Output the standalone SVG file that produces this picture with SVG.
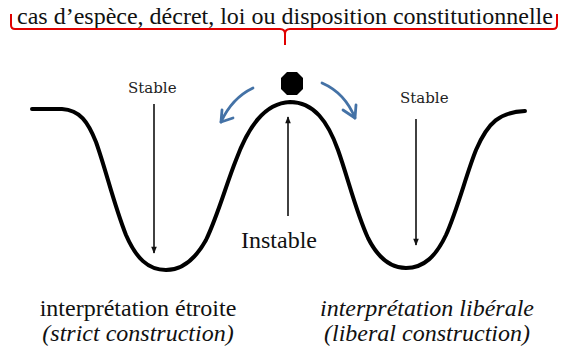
<svg xmlns="http://www.w3.org/2000/svg" width="561" height="352" viewBox="0 0 561 352">
<defs>
<style>
.tx{font-family:"Liberation Serif","Times New Roman",serif;font-size:24px;fill:#111}
.it{font-style:italic}
.stable{font-family:"DejaVu Serif","Liberation Serif",serif;font-size:15px;fill:#222}
.curve{fill:none;stroke:#000;stroke-width:4;stroke-linejoin:round;stroke-linecap:round}
.ar{fill:none;stroke:#111;stroke-width:1.6}
.blue{fill:none;stroke:#4472a6;stroke-width:2.8;stroke-linecap:round;stroke-linejoin:round}
.brace{fill:none;stroke:#e00000;stroke-width:2;stroke-linejoin:round}
</style>
<marker id="ah" viewBox="0 0 10 10" refX="9" refY="5" markerWidth="10" markerHeight="7" markerUnits="userSpaceOnUse" orient="auto">
<path d="M0,1 L10,5 L0,9 z" fill="#111"/>
</marker>
</defs>
<rect width="561" height="352" fill="#fff"/>
<g id="header">
<text class="tx" x="17" y="24">cas d’espèce, décret, loi ou disposition constitutionnelle</text>
<path class="brace" d="M11,14 L11,25 Q11,29 15,29 L280,29 Q285,29 285,34 L285,45 M285,34 Q285,29 290,29 L553,29 Q557,29 557,25 L557,14"/>
</g>
<g id="curve">
<path class="curve" d="M32,109 L62,109 C80,110 88,122 96,142 C106,170 114,205 126,235 C136,258 148,270 166,270 C184,270 196,258 206,240 C218,215 226,185 236,160 C248,128 264,103 290,102 C314,102 328,122 338,150 C348,178 356,212 368,238 C378,258 390,268 406,268 C424,268 436,256 446,235 C458,208 466,175 476,150 C488,122 500,112 525,111"/>
</g>
<g id="ball">
<polygon points="287,72 297,72 303,78 303,89 297,95 287,95 281,89 281,78" fill="#000"/>
</g>
<g id="stable-left">
<text class="stable" x="128" y="93">Stable</text>
</g>
<g id="stable-right">
<text class="stable" x="400" y="103">Stable</text>
</g>
<g id="instable">
<text class="tx" x="241" y="248" font-size="25">Instable</text>
</g>
<g id="connectors">
<line class="ar" x1="154" y1="104" x2="154" y2="253" marker-end="url(#ah)"/>
<line class="ar" x1="416" y1="119" x2="416" y2="245" marker-end="url(#ah)"/>
<line class="ar" x1="288" y1="216" x2="288" y2="117" marker-end="url(#ah)"/>
<path class="blue" d="M253,88 Q232,98 221,122"/>
<path class="blue" d="M221,122 L233,118 M221,122 L222,110"/>
<path class="blue" d="M322,83 Q345,93 355,118"/>
<path class="blue" d="M355,118 L343,110 M355,118 L356,105"/>
</g>
<g id="captions">
<text class="tx" x="138" y="316" text-anchor="middle">interprétation étroite</text>
<text class="tx it" x="138" y="341" text-anchor="middle">(strict construction)</text>
<text class="tx it" x="427" y="316" text-anchor="middle">interprétation libérale</text>
<text class="tx it" x="427" y="341" text-anchor="middle">(liberal construction)</text>
</g>
</svg>
